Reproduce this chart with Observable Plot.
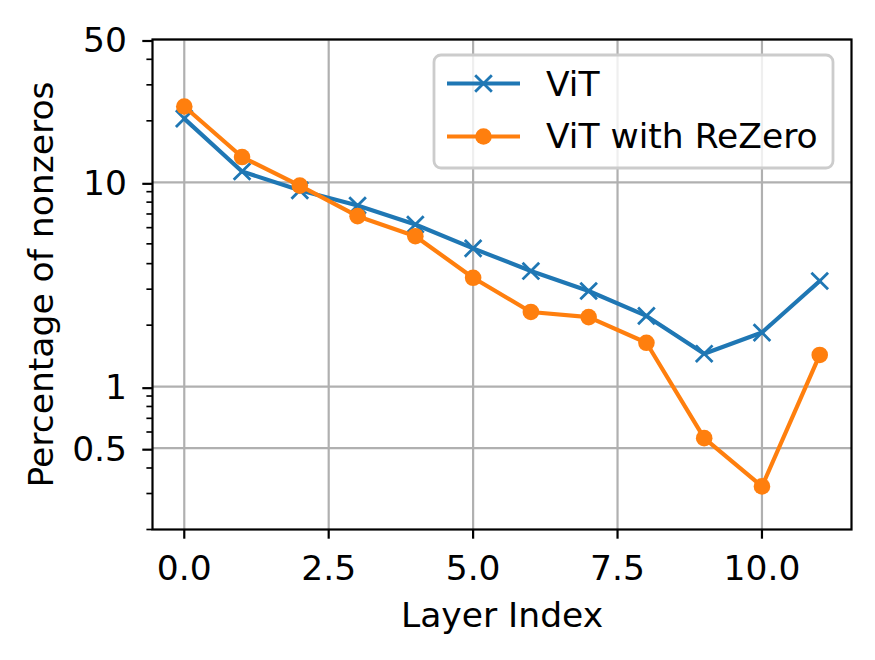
<!DOCTYPE html>
<html><head><meta charset="utf-8">
<script src="https://cdn.jsdelivr.net/npm/d3@7"></script>
<script src="https://cdn.jsdelivr.net/npm/@observablehq/plot@0.6"></script>
<style>body{margin:0;background:#fff}</style>
</head><body><div id="chart"></div>
<script>
const layers = [0,1,2,3,4,5,6,7,8,9,10,11];
const vit = [20.5,11.3,9.14,7.70,6.22,4.75,3.68,2.94,2.22,1.45,1.84,3.29];
const rezero = [23.5,13.3,9.64,6.83,5.45,3.41,2.32,2.19,1.64,0.560,0.325,1.43];
const seriesNames = ["ViT","ViT with ReZero"];
const seriesColors = ["#1f77b4","#ff7f0e"];
const xTicks = [0,2.5,5,7.5,10];
const yTicks = [0.5,1,10,50];
const yMinorTicks = [0.2,0.3,0.4,0.6,0.7,0.8,0.9,2,3,4,5,6,7,8,9,20,30,40];
const xLabel = "Layer Index";
const yLabel = "Percentage of nonzeros";

const vitRows = layers.map((l,i)=>({layer:l, value:vit[i]}));
const rzRows = layers.map((l,i)=>({layer:l, value:rezero[i]}));

const FS = 34.5;
const plot = Plot.plot({
  width: 875, height: 660,
  marginLeft: 152, marginRight: 24, marginTop: 39, marginBottom: 131,
  style: {fontFamily: "DejaVu Sans", fontSize: FS + "px", background: "white", color: "black"},
  x: {domain: [-0.55, 11.55]},
  y: {type: "log", domain: [0.2, 50]},
  marks: [
    Plot.gridX(xTicks, {stroke: "#b0b0b0", strokeOpacity: 1, strokeWidth: 2.2}),
    Plot.gridY(yTicks, {stroke: "#b0b0b0", strokeOpacity: 1, strokeWidth: 2.2}),
    Plot.line(vitRows, {x: "layer", y: "value", stroke: seriesColors[0], strokeWidth: 4.17}),
    Plot.dot(vitRows, {x: "layer", y: "value", symbol: "times", r: 7.63, stroke: seriesColors[0], strokeWidth: 2.8}),
    Plot.line(rzRows, {x: "layer", y: "value", stroke: seriesColors[1], strokeWidth: 4.17}),
    Plot.dot(rzRows, {x: "layer", y: "value", r: 8.3, fill: seriesColors[1], stroke: "none"}),
    Plot.axisX(xTicks, {tickSize: 9.7, tickPadding: 16.5, strokeWidth: 2.2, tickFormat: d => d.toFixed(1), fontSize: FS, label: null}),
    Plot.axisY(yTicks, {tickSize: 9.7, tickPadding: 15.8, strokeWidth: 2.2, tickFormat: d => String(d), fontSize: FS, label: null, dy: 1.5}),
    Plot.axisY(yMinorTicks, {tickSize: 5.6, strokeWidth: 1.67, tickFormat: () => "", label: null}),
    Plot.frame({stroke: "black", strokeWidth: 2.2}),
    Plot.text([xLabel], {frameAnchor: "bottom", dy: 97.7, lineAnchor: "bottom", fontSize: FS}),
    Plot.text([yLabel], {frameAnchor: "left", rotate: -90, dx: -100, textAnchor: "middle", lineAnchor: "bottom", fontSize: FS})
  ]
});

const svg = d3.select(plot);
const g = svg.append("g").attr("font-family", "DejaVu Sans").attr("font-size", FS).attr("text-anchor", "start");
g.append("rect").attr("x", 434).attr("y", 55).attr("width", 399).attr("height", 113).attr("rx", 7)
  .attr("fill", "white").attr("fill-opacity", 0.8).attr("stroke", "#cccccc").attr("stroke-width", 2.8);
const rowsY = [83.5, 136.5];
const baseY = [96, 148.3];
seriesNames.forEach((name, i) => {
  g.append("line").attr("x1", 447).attr("x2", 520).attr("y1", rowsY[i]).attr("y2", rowsY[i])
    .attr("stroke", seriesColors[i]).attr("stroke-width", 4.17);
  if (i === 0) {
    const r = 8.33;
    g.append("path").attr("d", `M${483.5-r},${rowsY[i]-r}L${483.5+r},${rowsY[i]+r}M${483.5-r},${rowsY[i]+r}L${483.5+r},${rowsY[i]-r}`)
      .attr("stroke", seriesColors[i]).attr("stroke-width", 2.8).attr("fill", "none");
  } else {
    g.append("circle").attr("cx", 483.5).attr("cy", rowsY[i]).attr("r", 8.3).attr("fill", seriesColors[i]);
  }
  g.append("text").attr("x", 546).attr("y", baseY[i]).attr("fill", "black").attr("text-anchor", "start").text(name);
});

document.getElementById("chart").appendChild(plot);
</script>
</body></html>
